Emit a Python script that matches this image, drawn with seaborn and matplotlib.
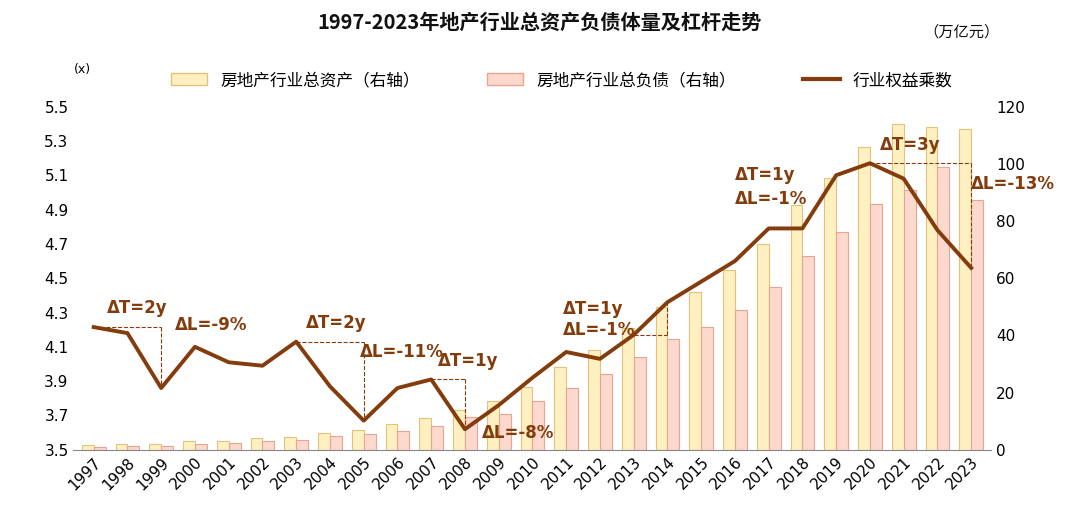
import matplotlib
matplotlib.use("Agg")
import matplotlib.pyplot as plt
from matplotlib import font_manager as fm
from matplotlib.font_manager import FontProperties
import seaborn as sns
import numpy as np
import pandas as pd
import subprocess

paths = []
try:
    out = subprocess.run(["fc-list", ":lang=zh", "file"], capture_output=True, text=True).stdout
    paths = [l.split(":")[0].strip() for l in out.splitlines() if l.strip()]
except Exception:
    pass
for p in fm.findSystemFonts():
    b = p.lower()
    if "cjk" in b or "hans" in b:
        paths.append(p)
paths = sorted(set(paths))
for p in paths:
    try:
        fm.fontManager.addfont(p)
    except Exception:
        pass

sans_paths = [p for p in paths if "Sans" in p and "Mono" not in p and "Serif" not in p]
def pick(hint):
    for p in sans_paths:
        if hint in p.split("/")[-1] and ("SC" in p or "CJK" in p):
            return p
    for p in sans_paths:
        if hint in p.split("/")[-1]:
            return p
    return sans_paths[0] if sans_paths else (paths[0] if paths else None)

reg_f = pick("Regular")
bold_f = pick("Bold")
fp_reg = FontProperties(fname=reg_f, size=12) if reg_f else FontProperties(size=12)
fp_title = FontProperties(fname=bold_f, size=14.5) if bold_f else FontProperties(size=14.5, weight="bold")
fp_unit = FontProperties(fname=reg_f, size=11) if reg_f else FontProperties(size=11)

years = [str(y) for y in range(1997, 2024)]
assets = [1.7, 2, 2, 3, 3, 4, 4.5, 6, 7, 9, 11, 14, 17, 22, 29, 35, 42.5, 50, 55, 63, 72, 85.5, 95, 106, 114, 113, 112]
liabs = [1, 1.3, 1.5, 2, 2.5, 3, 3.3, 5, 5.5, 6.6, 8.4, 11.5, 12.5, 17, 21.6, 26.5, 32.4, 38.7, 43, 49, 57, 67.7, 76, 85.8, 91, 99, 87.5]
mult = [4.215, 4.18, 3.86, 4.10, 4.01, 3.99, 4.13, 3.87, 3.67, 3.86, 3.91, 3.62, 3.76, 3.92, 4.07, 4.03, 4.17, 4.36, 4.48, 4.60, 4.79, 4.79, 5.10, 5.17, 5.08, 4.78, 4.56]

fig = plt.figure(figsize=(10.8, 5.2), dpi=100)
ax = fig.add_axes([0.068, 0.135, 0.85, 0.66])
ax2 = ax.twinx()

df = pd.DataFrame({"year": years * 2, "val": assets + liabs,
                   "s": ["房地产行业总资产（右轴）"] * 27 + ["房地产行业总负债（右轴）"] * 27})
sns.barplot(data=df, x="year", y="val", hue="s", ax=ax2, width=0.7, saturation=1,
            palette=["#FFF0C2", "#FCD9CC"], legend=False)
for i, p in enumerate(ax2.patches[:54]):
    p.set_edgecolor("#E5C27A" if i < 27 else "#E8A493")
    p.set_linewidth(0.8)
ax2.set_ylim(0, 120)
ax2.set_yticks(range(0, 121, 20))
ax2.set_ylabel("")
ax2.set_xlabel("")

x = np.arange(27)
ax.plot(x, mult, color="#843C0C", lw=2.8, zorder=5)
ax.set_zorder(ax2.get_zorder() + 1)
ax.patch.set_visible(False)
ax.set_ylim(3.5, 5.5)
ax.set_yticks(np.arange(3.5, 5.51, 0.2))
ax.set_yticklabels([f"{v:.1f}" for v in np.arange(3.5, 5.51, 0.2)])
ax.set_xlim(-0.6, 26.6)
ax.set_xticks(x)
ax.set_xticklabels(years, rotation=45, ha="right", rotation_mode="anchor")
for a in (ax, ax2):
    for s in a.spines.values():
        s.set_visible(False)
    a.tick_params(length=0, labelsize=11)
ax.spines["bottom"].set_visible(True)
ax.spines["bottom"].set_color("#888888")

c = "#843C0C"
def seg(i0, i1, v0, v1):
    ax.plot([i0, i1], [v0, v0], ls="--", color=c, lw=0.8)
    ax.plot([i1, i1], [v0, v1], ls="--", color=c, lw=0.8)
seg(0, 2, mult[0], mult[2]); seg(6, 8, mult[6], mult[8]); seg(10, 11, mult[10], mult[11])
seg(16, 17, mult[16], mult[17]); seg(20, 21, mult[20], mult[21]); seg(23, 26, mult[23], mult[26])
tk = dict(color=c, fontsize=12, fontweight="bold")
ax.text(0.4, 4.3, "ΔT=2y", **tk); ax.text(2.4, 4.2, "ΔL=-9%", **tk)
ax.text(6.3, 4.21, "ΔT=2y", **tk); ax.text(7.9, 4.04, "ΔL=-11%", **tk)
ax.text(10.2, 3.99, "ΔT=1y", **tk); ax.text(11.5, 3.57, "ΔL=-8%", **tk)
ax.text(13.9, 4.29, "ΔT=1y", **tk); ax.text(13.9, 4.17, "ΔL=-1%", **tk)
ax.text(19.0, 5.07, "ΔT=1y", **tk); ax.text(19.0, 4.93, "ΔL=-1%", **tk)
ax.text(23.3, 5.25, "ΔT=3y", **tk); ax.text(26.0, 5.02, "ΔL=-13%", **tk)

fig.text(0.5, 0.945, "1997-2023年地产行业总资产负债体量及杠杆走势", ha="center", fontproperties=fp_title, color="#111111")
fig.text(0.855, 0.93, "（万亿元）", fontproperties=fp_unit, color="#111111")
fig.text(0.068, 0.86, "(x)", fontsize=9)
from matplotlib.patches import Patch
from matplotlib.lines import Line2D
h = [Patch(facecolor="#FFF0C2", edgecolor="#E5C27A"), Patch(facecolor="#FCD9CC", edgecolor="#E8A493"),
     Line2D([], [], color=c, lw=3)]
fig.legend(h, ["房地产行业总资产（右轴）", "房地产行业总负债（右轴）", "行业权益乘数"], loc="center",
           bbox_to_anchor=(0.52, 0.845), ncol=3, frameon=False, prop=fp_reg, columnspacing=4, handlelength=2.2)
fig.savefig("out.png", dpi=100)
